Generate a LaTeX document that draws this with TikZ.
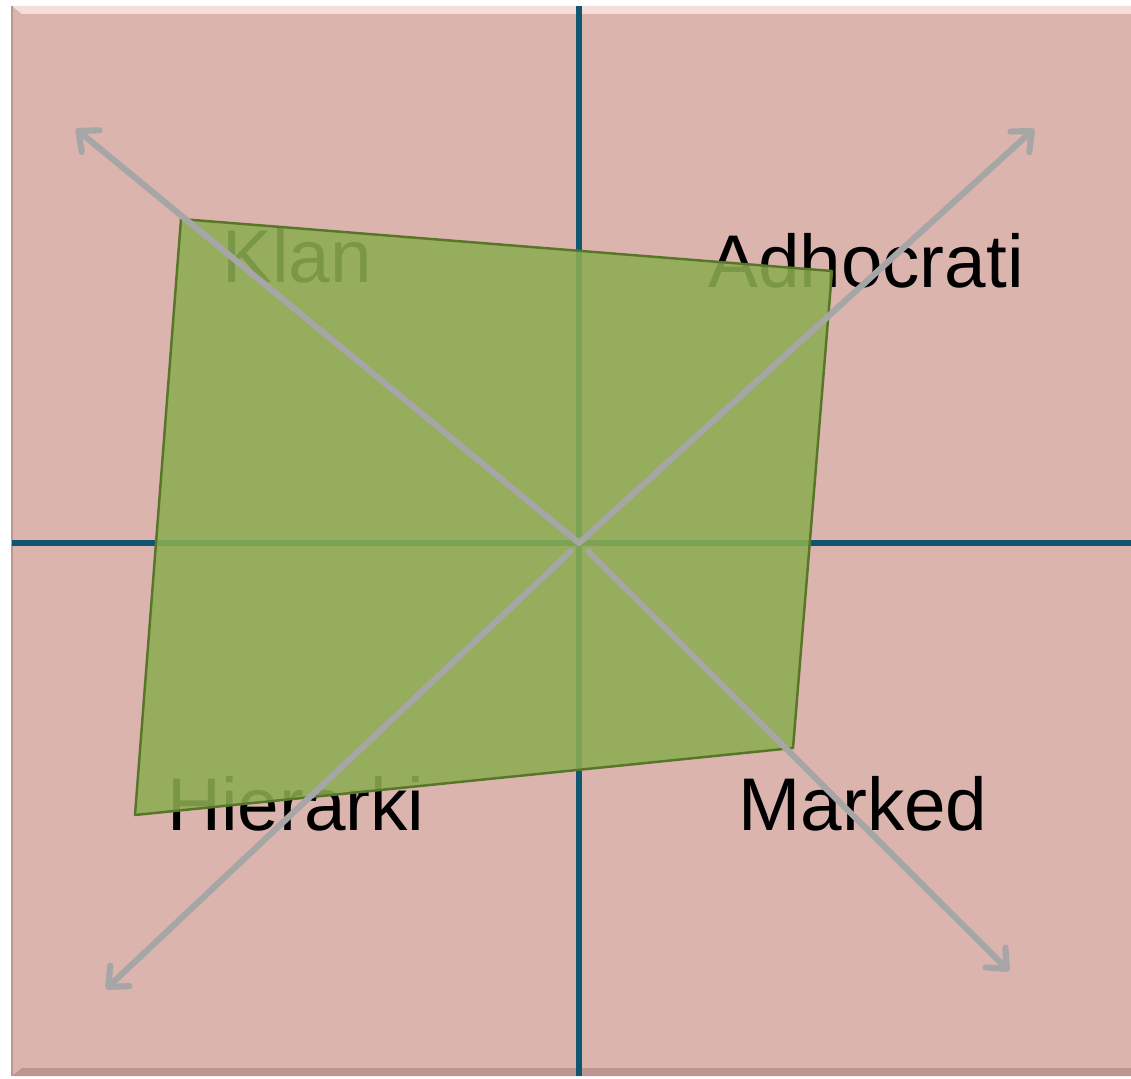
\documentclass[tikz,border=0pt]{standalone}
\usepackage{fontspec}
\setmainfont{Liberation Sans}
\usetikzlibrary{arrows.meta}
\definecolor{PanelPink}{RGB}{219, 180, 174}
\definecolor{PanelEdge}{RGB}{190, 150, 145}
\definecolor{PanelLight}{RGB}{245, 222, 218}
\definecolor{AxisBlue}{RGB}{16, 86, 112}
\definecolor{ShapeGreen}{RGB}{140, 173, 82}
\definecolor{ShapeEdge}{RGB}{88, 118, 42}
\definecolor{ArrowGray}{RGB}{166, 166, 166}

\begin{document}
\begin{tikzpicture}[x={(0.02cm,0)}, y={(0,-0.02cm)},
    quadlabel/.style={font=\fontsize{42.5}{50}\selectfont, anchor=base, inner sep=0pt},
    axisline/.style={AxisBlue, line width=3.2pt},
    diagarrow/.style={ArrowGray, line width=3.5pt, line cap=round,
      -{Straight Barb[length=3.2mm, width=5.6mm, round]}}]
    \useasboundingbox (0,0) rectangle (1131,1078);

    % Panel with bevel
    \fill[PanelPink] (12,6) rectangle (1131,1076);
    \fill[PanelLight] (12,6) -- (1131,6) -- (1131,14) -- (22,14) -- cycle;
    \fill[PanelEdge] (12,1076) -- (1131,1076) -- (1131,1068) -- (22,1068) -- cycle;
    \draw[PanelEdge, line width=1.2pt] (12,6) -- (12,1076);

    % Axes
    \draw[axisline] (579,6) -- (579,1076);
    \draw[axisline] (12,543) -- (1131,543);

    % Quadrant names
    \node[quadlabel] (klan) at (297,282) {Klan};
    \node[quadlabel] (adhoc) at (866,287) {Adhocrati};
    \node[quadlabel] (hier) at (296,830) {Hierarki};
    \node[quadlabel] (marked) at (863,830) {Marked};

    % Profile
    \filldraw[fill=ShapeGreen, draw=ShapeEdge, fill opacity=0.88, line width=1.4pt,
      line join=round] (181,219) -- (832,271) -- (793,748) -- (135,815) -- cycle;

    % Diagonal directions
    \coordinate (centre) at (579,543);
    \coordinate (sw start) at (571,551);
    \coordinate (se start) at (588,551);
    \coordinate (nw end) at (76,129);
    \coordinate (ne end) at (1034,129);
    \coordinate (sw end) at (106,989);
    \coordinate (se end) at (1009,971);

    \draw[diagarrow] (centre) -- (nw end);
    \draw[diagarrow] (centre) -- (ne end);
    \draw[diagarrow] (sw start) -- (sw end);
    \draw[diagarrow] (se start) -- (se end);
  \end{tikzpicture}
\end{document}
